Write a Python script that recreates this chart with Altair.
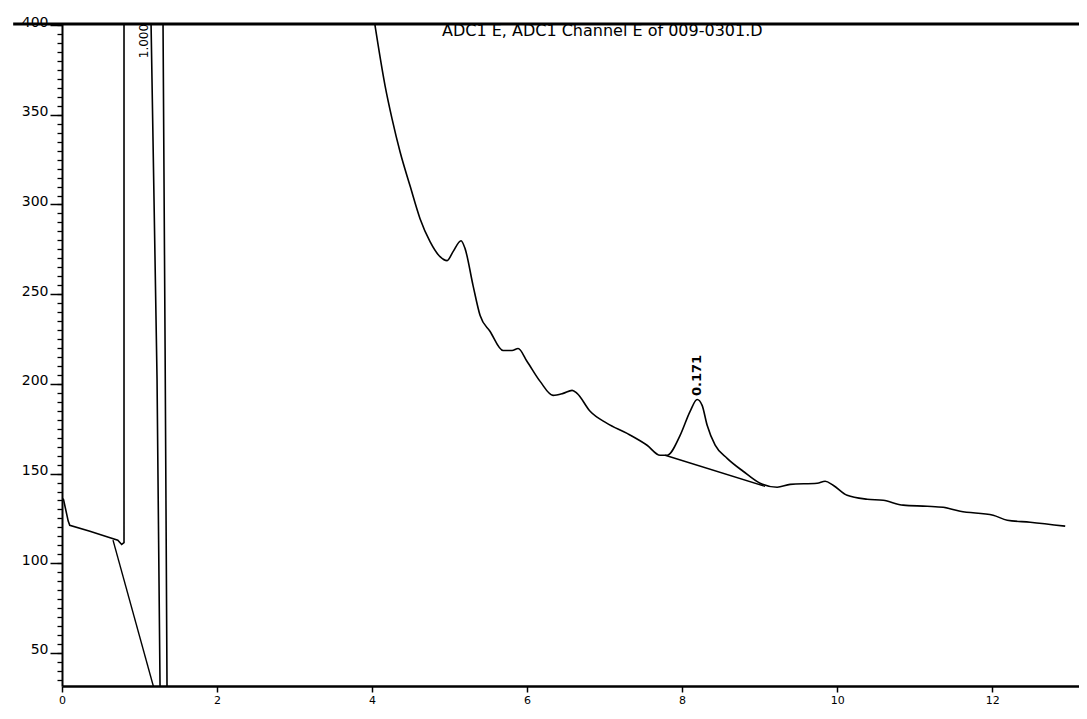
import altair as alt
import pandas as pd

# ---- signal trace, part A: start and off-scale solvent region (linear) ----
a_t = [0.00, 0.02, 0.08, 0.10, 0.36, 0.60, 0.72, 0.77, 0.80, 0.80,
       1.15, 1.148, 1.226, 1.265, 1.27, 1.36, 1.355, 1.33, 1.303, 1.30,
       4.03, 4.039]
a_v = [136.3, 135.5, 123.5, 121.2, 117.9, 114.5, 112.9, 110.5, 111.5, 430,
       430, 403, 203, 30.5, 10, 10, 30, 220, 403, 430,
       430, 399.5]

# ---- signal trace, part B: descending tail with peaks (smooth) ----
b_t = [4.039, 4.168, 4.258, 4.361, 4.490, 4.619, 4.748, 4.877, 4.968,
       5.045, 5.148, 5.200, 5.303, 5.394, 5.523, 5.690, 5.806, 5.884, 6.000,
       6.168, 6.335, 6.465, 6.581, 6.645, 6.813, 7.032, 7.290, 7.548, 7.716,
       7.806, 7.974, 8.103, 8.194, 8.258, 8.323, 8.426, 8.581, 8.787, 9.006,
       9.226, 9.394, 9.742, 9.845, 9.948, 10.129, 10.387, 10.594, 10.852, 11.161,
       11.368, 11.587, 12.013, 12.194, 12.490, 12.942]
b_v = [399.5, 366.1, 347.7, 329.4, 310.4, 292.1, 279.3, 270.9, 268.7,
       273.7, 279.8, 275.4, 254.8, 238.1, 229.2, 218.6, 218.6, 219.7, 212.5,
       201.4, 193.6, 194.7, 196.4, 194.7, 184.7, 178.0, 172.4, 165.8, 160.2,
       160.2, 171.3, 184.7, 191.3, 188.0, 176.9, 165.8, 158.5, 151.3, 144.6,
       142.4, 144.0, 144.6, 145.7, 143.5, 137.9, 135.7, 135.1, 132.4, 131.8,
       131.2, 129.0, 126.8, 124.0, 122.9, 120.7]

# ---- integration baselines ----
base_id = ["solvent", "solvent", "peak", "peak"]
base_t = [0.658, 1.22, 7.781, 9.07]
base_v = [112.9, 25.0, 160.2, 142.9]

# ---- annotations ----
solvent_label = ["1.000"]
solvent_t = [1.058]
solvent_v = [391.1]
peak_label = ["0.171"]
peak_t = [8.194]
peak_v = [204.7]
title_text = ["ADC1 E, ADC1 Channel E of 009-0301.D"]
title_t = [6.97]
title_v = [396.7]

# ---- frame ----
frame_t = [-0.63]
frame_t2 = [13.3]
frame_v = [400.6]

x_ticks = [0, 2, 4, 6, 8, 10, 12]
y_ticks = [50, 100, 150, 200, 250, 300, 350, 400]
y_minor = list(range(35, 401, 5))

X_DOMAIN = [0, 13.12]
Y_DOMAIN = [31.6, 400.6]

a_df = pd.DataFrame({"t": a_t, "v": a_v, "i": list(range(len(a_t)))})
b_df = pd.DataFrame({"t": b_t, "v": b_v})
base_df = pd.DataFrame({"t": base_t, "v": base_v, "id": base_id})
sol_df = pd.DataFrame({"t": solvent_t, "v": solvent_v, "txt": solvent_label})
pk_df = pd.DataFrame({"t": peak_t, "v": peak_v, "txt": peak_label})
title_df = pd.DataFrame({"t": title_t, "v": title_v, "txt": title_text})
frame_df = pd.DataFrame({"t": frame_t, "t2": frame_t2, "v": frame_v})

xs = alt.Scale(domain=X_DOMAIN, nice=False, zero=False)
ys = alt.Scale(domain=Y_DOMAIN, nice=False, zero=False)

x_axis = alt.Axis(
    values=x_ticks, title=None, grid=False, tickSize=6, tickWidth=1.5,
    labelFontSize=11, labelFont="DejaVu Sans", labelFlush=False, labelOverlap=False,
    labelPadding=2, domainWidth=2.5, domainColor="black", tickColor="black",
    labelColor="black")
X = alt.X("t:Q", scale=xs, axis=x_axis)
Y_NONE = alt.Y("v:Q", scale=ys, axis=None)

sig_a = alt.Chart(a_df).mark_line(color="black", strokeWidth=1.6, clip=True).encode(
    x=X,
    y=alt.Y("v:Q", scale=ys, axis=alt.Axis(
        values=y_ticks, orient="left", title=None, grid=False, tickSize=12, tickWidth=1.5,
        labelFontSize=14, labelFont="DejaVu Sans", labelPadding=2,
        labelBaseline="alphabetic", labelOffset=1,
        labelOverlap=False, labelFlush=False, domainWidth=2, domainColor="black",
        tickColor="black", labelColor="black")),
    order="i:Q",
)

sig_b = alt.Chart(b_df).mark_line(color="black", strokeWidth=1.6, clip=True,
                                  interpolate="monotone").encode(x=X, y=Y_NONE)

baselines = alt.Chart(base_df).mark_line(color="black", strokeWidth=1.4, clip=True).encode(
    x=X,
    y=alt.Y("v:Q", scale=ys, axis=alt.Axis(
        values=y_minor, orient="left", title=None, grid=False, labels=False,
        domain=False, tickSize=5, tickWidth=1.3, tickColor="black")),
    detail="id:N",
)

sol_text = alt.Chart(sol_df).mark_text(angle=270, font="DejaVu Sans", fontSize=12,
                                       color="black", baseline="middle", align="center").encode(
    x=X, y=Y_NONE, text="txt:N")

pk_text = alt.Chart(pk_df).mark_text(angle=270, font="DejaVu Sans", fontSize=13,
                                     fontWeight="bold", color="black",
                                     baseline="middle", align="center").encode(
    x=X, y=Y_NONE, text="txt:N")

title = alt.Chart(title_df).mark_text(fontSize=16, font="DejaVu Sans", color="black",
                                      baseline="middle", align="center").encode(
    x=X, y=Y_NONE, text="txt:N")

frame = alt.Chart(frame_df).mark_rule(color="black", strokeWidth=3, clip=False).encode(
    x=X, x2="t2:Q", y=Y_NONE)

chart = alt.layer(sig_a, sig_b, baselines, sol_text, pk_text, title, frame).resolve_axis(
    y="independent"
).properties(
    width=1017, height=662,
    padding={"left": 54, "top": 16, "right": 0, "bottom": 24},
    autosize=alt.AutoSizeParams(type="none"),
    background="white",
).configure_view(stroke=None)

chart.save("out.html", embed_options={"renderer": "svg", "actions": False})
